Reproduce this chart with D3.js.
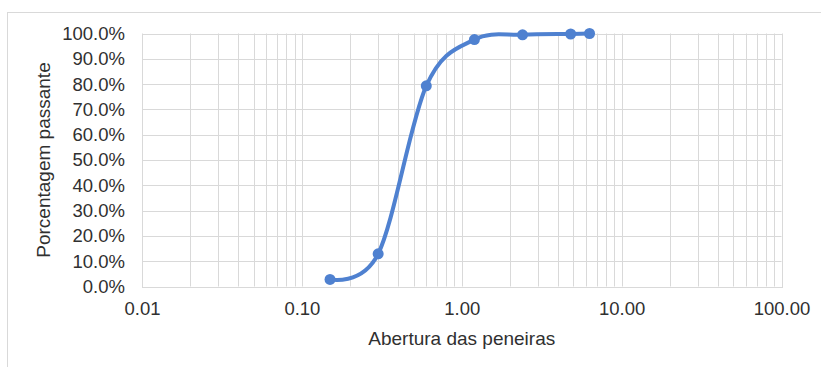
<!DOCTYPE html>
<html>
<head>
<meta charset="utf-8">
<script src="https://cdn.jsdelivr.net/npm/d3@7"></script>
<style>
  html, body { margin: 0; padding: 0; background: #fff; }
  svg { display: block; font-family: "Liberation Sans", Arial, sans-serif; }
</style>
</head>
<body>
<svg id="chart" width="821" height="367"></svg>
<script>
// Data
const sieveOpenings = [0.15, 0.3, 0.6, 1.2, 2.4, 4.8, 6.3];
const percentPassing = [0.028, 0.129, 0.793, 0.976, 0.995, 0.998, 1.0];
const xTickValues = [0.01, 0.1, 1, 10, 100];
const yTickValues = [0, 0.1, 0.2, 0.3, 0.4, 0.5, 0.6, 0.7, 0.8, 0.9, 1.0];
const xTitle = "Abertura das peneiras";
const yTitle = "Porcentagem passante";

const svg = d3.select("#chart");
const W = 821, H = 367;
const margin = { left: 142, right: 821 - 781.5, top: 33.5, bottom: 367 - 286.5 };
const pw = W - margin.left - margin.right;
const ph = H - margin.top - margin.bottom;

const gridColor = "#d9d9d9";
const textColor = "#303030";
const lineColor = "#4f81d0";
const tickFont = 18.5;
const titleFont = 19;

// outer frame
svg.append("rect")
  .attr("x", 7.5).attr("y", 12.5)
  .attr("width", 830).attr("height", 380)
  .attr("fill", "none").attr("stroke", gridColor).attr("stroke-width", 1);

const x = d3.scaleLog().domain([0.01, 100]).range([margin.left, margin.left + pw]);
const y = d3.scaleLinear().domain([0, 1]).range([margin.top + ph, margin.top]);

const g = svg.append("g");

// vertical grid (major + minor)
const vLines = [];
for (let e = -2; e < 2; e++) {
  for (let m = 1; m <= 9; m++) vLines.push(m * Math.pow(10, e));
}
vLines.push(100);
g.append("g").selectAll("line").data(vLines).join("line")
  .attr("x1", d => Math.round(x(d)) + 0.5).attr("x2", d => Math.round(x(d)) + 0.5)
  .attr("y1", y(1)).attr("y2", y(0))
  .attr("stroke", gridColor).attr("stroke-width", 1);

// horizontal grid
g.append("g").selectAll("line").data(yTickValues).join("line")
  .attr("x1", x(0.01)).attr("x2", x(100))
  .attr("y1", d => Math.round(y(d)) + 0.5).attr("y2", d => Math.round(y(d)) + 0.5)
  .attr("stroke", gridColor).attr("stroke-width", 1);

// plot border
g.append("rect")
  .attr("x", Math.round(x(0.01)) + 0.5).attr("y", Math.round(y(1)) + 0.5)
  .attr("width", Math.round(x(100)) - Math.round(x(0.01)))
  .attr("height", Math.round(y(0)) - Math.round(y(1)))
  .attr("fill", "none").attr("stroke", gridColor);

// Axes (text via d3 axes, domain/ticks hidden)
const xAxis = d3.axisBottom(x).tickValues(xTickValues).tickFormat(d3.format(".2f")).tickSize(0).tickPadding(15);
const xg = svg.append("g").attr("transform", `translate(0,${y(0)})`).call(xAxis);
xg.select(".domain").remove();
xg.selectAll("text").attr("font-size", tickFont).attr("fill", textColor).attr("font-family", "Liberation Sans, Arial, sans-serif");

const yAxis = d3.axisLeft(y).tickValues(yTickValues).tickFormat(d3.format(".1%")).tickSize(0).tickPadding(17);
const yg = svg.append("g").attr("transform", `translate(${x(0.01)},0)`).call(yAxis);
yg.select(".domain").remove();
yg.selectAll("text").attr("font-size", tickFont).attr("fill", textColor).attr("font-family", "Liberation Sans, Arial, sans-serif");

// titles
svg.append("text")
  .attr("x", (x(0.01) + x(100)) / 2).attr("y", 345)
  .attr("text-anchor", "middle").attr("font-size", titleFont).attr("fill", textColor)
  .text(xTitle);
svg.append("text")
  .attr("transform", `translate(50,${(y(0) + y(1)) / 2}) rotate(-90)`)
  .attr("text-anchor", "middle").attr("font-size", titleFont).attr("fill", textColor)
  .text(yTitle);

// data
const data = sieveOpenings.map((d, i) => ({ x: d, y: percentPassing[i] }));
const line = d3.line().x(d => x(d.x)).y(d => y(d.y)).curve(d3.curveCatmullRom.alpha(0));
svg.append("path").datum(data)
  .attr("d", line).attr("fill", "none")
  .attr("stroke", lineColor).attr("stroke-width", 4).attr("stroke-linecap", "round");
svg.append("g").selectAll("circle").data(data).join("circle")
  .attr("cx", d => x(d.x)).attr("cy", d => y(d.y)).attr("r", 5.5)
  .attr("fill", lineColor);
</script>
</body>
</html>
